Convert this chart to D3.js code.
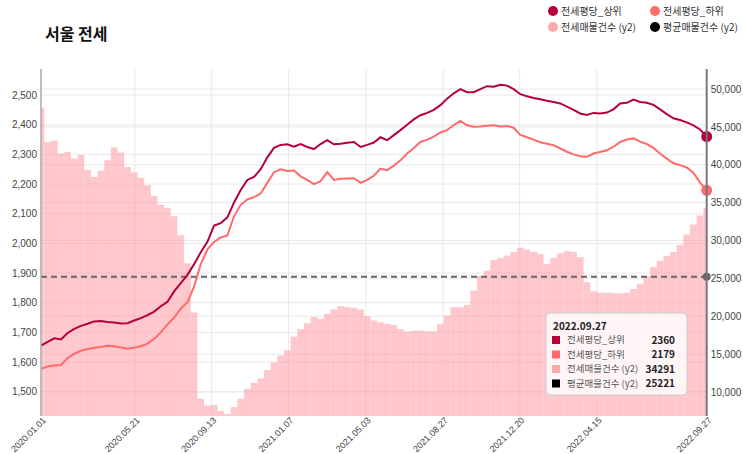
<!DOCTYPE html>
<html>
<head>
<meta charset="utf-8">
<script src="https://cdn.jsdelivr.net/npm/d3@7"></script>
<style>
    body { margin: 0; background: #fff; }
    svg { font-family: "Noto Sans CJK KR", "Noto Sans", sans-serif; }
    .axis text { fill: #444; font-size: 10px; }
    .grid line { stroke: #e9e9e9; stroke-width: 1; }
</style>
</head>
<body>
<div id="chart"></div>
<script>
// sampled every 10 days from 2020.01.01 to 2022.09.27
const startDate = '2020-01-01';
const stepDays = 10;

// 전세평당_상위 (left axis)
const upper = [1655,1668,1680,1676,1698,1712,1722,1729,1737,1738,
    1735,1733,1730,1731,1740,1748,1758,1770,1788,1803,
    1838,1866,1894,1930,1970,2005,2060,2068,2088,2138,
    2180,2214,2224,2250,2290,2322,2332,2334,2326,2335,
    2325,2318,2335,2348,2334,2336,2339,2342,2325,2332,
    2340,2358,2348,2365,2382,2400,2418,2432,2440,2450,
    2466,2488,2506,2520,2510,2510,2520,2530,2528,2535,
    2532,2520,2503,2496,2490,2486,2481,2477,2472,2461,
    2450,2438,2433,2440,2438,2441,2452,2472,2474,2485,
    2477,2474,2467,2452,2436,2422,2416,2408,2398,2384,2360];

// 전세평당_하위 (left axis)
const lower = [1577,1585,1588,1590,1613,1628,1638,1644,1648,1651,
    1655,1653,1649,1645,1648,1653,1662,1678,1700,1727,
    1750,1780,1802,1855,1930,1980,2005,2020,2027,2092,
    2130,2148,2156,2168,2204,2240,2250,2244,2246,2226,
    2214,2200,2210,2240,2214,2218,2219,2220,2204,2214,
    2228,2252,2247,2262,2280,2303,2322,2342,2350,2360,
    2374,2382,2399,2413,2398,2393,2394,2397,2398,2394,
    2396,2390,2366,2358,2350,2341,2336,2331,2320,2309,
    2300,2294,2292,2303,2308,2314,2326,2342,2350,2354,
    2343,2335,2322,2302,2286,2270,2264,2256,2238,2205,2179];

// 전세매물건수 (right axis)
const listings = [47500,43000,43200,41500,41700,40800,41300,39300,38400,39200,
    40600,42300,41600,39700,39000,38300,37300,35900,34700,34300,
    33200,30700,27000,20500,9100,8200,8300,7500,7100,8000,
    9100,10400,11200,11800,12900,13900,14800,15500,17300,18300,
    19100,19900,19700,20300,20900,21350,21200,21100,20900,20000,
    19450,19200,19000,18850,18300,18000,18100,18100,18000,18000,
    18950,20100,21200,21200,21500,23400,25300,26000,27400,27700,
    28000,28500,29050,28800,28500,28200,26900,27700,28300,28600,
    28500,27800,24500,23300,23100,23130,23050,23000,23100,23600,
    24300,25300,26500,27300,27950,28500,29400,30800,32100,33300,34291];

// 평균매물건수 (right axis)
const avgListings = 25221;

// axis ticks
const xTickLabels = ['2020.01.01','2020.05.21','2020.09.13','2021.01.07','2021.05.03',
    '2021.08.27','2021.12.20','2022.04.15','2022.09.27'];
const leftTicks = [1500,1600,1700,1800,1900,2000,2100,2200,2300,2400,2500];
const rightTicks = [10000,15000,20000,25000,30000,35000,40000,45000,50000];

// series names and colours
const seriesNames = ['전세평당_상위','전세평당_하위','전세매물건수 (y2)','평균매물건수 (y2)'];
const colors = ['#b5003b','#ff6b6b','#ffaaaa','#000000'];

// defining layout
const width = 743;
const height = 454;
const margin = {t:69, r:36.3, b:38, l:41};
const w = width - margin.l - margin.r;
const h = height - margin.t - margin.b;

const parseDate = d3.timeParse('%Y-%m-%d');
const parseTick = d3.timeParse('%Y.%m.%d');
const formatTick = d3.timeFormat('%Y.%m.%d');
const start = parseDate(startDate);
const dates = upper.map((d, i) => d3.timeDay.offset(start, i * stepDays));
const tickDates = xTickLabels.map(parseTick);

const svg = d3.select('#chart').append('svg')
    .attr('width', width)
    .attr('height', height);

const defs = svg.append('defs');
defs.append('clipPath')
    .attr('id', 'plot-clip')
    .append('rect')
    .attr('width', w)
    .attr('height', h);

// thin vertical stripes for the listing bars
const stripes = defs.append('pattern')
    .attr('id', 'bar-stripes')
    .attr('patternUnits', 'userSpaceOnUse')
    .attr('width', 1.6)
    .attr('height', 8);
stripes.append('rect')
    .attr('width', 1.6).attr('height', 8)
    .style('fill', '#ff8a94').style('fill-opacity', 0.5);
stripes.append('rect')
    .attr('width', 0.5).attr('height', 8)
    .style('fill', '#ffffff').style('fill-opacity', 0.2);

const plot = svg.append('g')
    .attr('transform', `translate(${margin.l},${margin.t})`);

// setting up scales
const scaleX = d3.scaleTime()
    .domain([start, tickDates[tickDates.length - 1]])
    .range([0, w]);
const scaleY = d3.scaleLinear()
    .domain([1418, 2588])
    .range([h, 0]);
const scaleY2 = d3.scaleLinear()
    .domain([6830, 52640])
    .range([h, 0]);

// grid lines
const grid = plot.append('g').attr('class', 'grid');
grid.selectAll('.gy').data(leftTicks).enter().append('line')
    .attr('x1', 0).attr('x2', w)
    .attr('y1', d => scaleY(d)).attr('y2', d => scaleY(d));
grid.selectAll('.gy2').data(rightTicks).enter().append('line')
    .attr('x1', 0).attr('x2', w)
    .attr('y1', d => scaleY2(d)).attr('y2', d => scaleY2(d));
grid.selectAll('.gx').data(tickDates.slice(1, -1)).enter().append('line')
    .attr('y1', 0).attr('y2', h)
    .attr('x1', d => scaleX(d)).attr('x2', d => scaleX(d));

// bars for listings
const barW = scaleX(dates[1]) - scaleX(dates[0]);
plot.append('g')
    .attr('clip-path', 'url(#plot-clip)')
    .selectAll('rect')
    .data(listings)
    .enter()
    .append('rect')
    .attr('x', (d, i) => scaleX(dates[i]) - barW / 2)
    .attr('width', barW)
    .attr('y', d => scaleY2(d))
    .attr('height', d => h - scaleY2(d))
    .style('fill', 'url(#bar-stripes)');

// average dashed line
plot.append('line')
    .attr('x1', 0).attr('x2', w)
    .attr('y1', scaleY2(avgListings)).attr('y2', scaleY2(avgListings))
    .style('stroke', '#666')
    .style('stroke-width', 2)
    .style('stroke-dasharray', '6,4');
plot.append('circle')
    .attr('cx', w).attr('cy', scaleY2(avgListings)).attr('r', 4)
    .style('fill', '#666');

// line generator
const line = d3.line()
    .x((d, i) => scaleX(dates[i]))
    .y(d => scaleY(d));

[lower, upper].forEach((s, k) => {
    const c = k === 0 ? colors[1] : colors[0];
    plot.append('path')
        .attr('d', line(s))
        .style('fill', 'none')
        .style('stroke', c)
        .style('stroke-width', 2);
    plot.append('circle')
        .attr('cx', scaleX(dates[s.length - 1]))
        .attr('cy', scaleY(s[s.length - 1]))
        .attr('r', 5.5)
        .style('fill', c);
});

// axes
const axisY = d3.axisLeft(scaleY)
    .tickValues(leftTicks)
    .tickSize(0)
    .tickPadding(4)
    .tickFormat(d3.format(','));
const axisY2 = d3.axisRight(scaleY2)
    .tickValues(rightTicks)
    .tickSize(0)
    .tickPadding(4)
    .tickFormat(d3.format(','));
const axisX = d3.axisBottom(scaleX)
    .tickValues(tickDates)
    .tickSize(0)
    .tickFormat(formatTick);

plot.append('g').attr('class', 'axis axis-y').call(axisY)
    .select('.domain').remove();
plot.append('g').attr('class', 'axis axis-y2')
    .attr('transform', `translate(${w},0)`)
    .call(axisY2)
    .select('.domain').remove();
const axisXNode = plot.append('g').attr('class', 'axis axis-x')
    .attr('transform', `translate(0,${h})`)
    .call(axisX);
axisXNode.select('.domain').remove();
axisXNode.selectAll('text')
    .attr('y', 0)
    .attr('dy', 0)
    .attr('transform', 'translate(5,5) rotate(-45)')
    .style('text-anchor', 'end')
    .style('font-size', '9px');

// axis lines
plot.append('line')
    .attr('x1', 0).attr('x2', 0).attr('y1', 0).attr('y2', h)
    .style('stroke', '#aaa').style('stroke-width', 1.5);
plot.append('line')
    .attr('x1', w).attr('x2', w).attr('y1', 0).attr('y2', h)
    .style('stroke', '#777').style('stroke-width', 2);

// title
svg.append('text')
    .attr('x', 45).attr('y', 40)
    .text('서울 전세')
    .style('font-size', '16px')
    .style('font-weight', 700)
    .style('fill', '#111');

// legend
const legendPos = [[553,11],[655,11],[553,27],[655,27]];
const legend = svg.append('g').selectAll('g')
    .data(seriesNames)
    .enter()
    .append('g')
    .attr('transform', (d, i) => `translate(${legendPos[i][0]},${legendPos[i][1]})`);
legend.append('circle')
    .attr('r', 5)
    .style('fill', (d, i) => colors[i]);
legend.append('text')
    .attr('x', 8)
    .attr('dy', '0.35em')
    .text(d => d)
    .style('font-size', '10px')
    .style('fill', '#333');

// tooltip box for the last date
const tipValues = [upper[upper.length - 1], lower[lower.length - 1], listings[listings.length - 1], avgListings];
const tip = svg.append('g').attr('transform', 'translate(546,313)');
tip.append('rect')
    .attr('width', 141)
    .attr('height', 82)
    .attr('rx', 4)
    .style('fill', 'rgba(255,255,255,0.82)')
    .style('stroke', '#ccc');
tip.append('text')
    .attr('x', 7).attr('y', 13).attr('dy', '0.35em')
    .text(formatTick(dates[dates.length - 1]))
    .style('font-size', '10px')
    .style('font-weight', 600)
    .style('fill', '#222');
const rows = tip.selectAll('.row')
    .data(seriesNames)
    .enter()
    .append('g')
    .attr('class', 'row')
    .attr('transform', (d, i) => `translate(0,${27 + i * 14.5})`);
rows.append('rect')
    .attr('x', 6).attr('y', -4)
    .attr('width', 8).attr('height', 8)
    .style('fill', (d, i) => colors[i]);
rows.append('text')
    .attr('x', 21).attr('dy', '0.35em')
    .text(d => d)
    .style('font-size', '9.5px')
    .style('fill', '#555');
rows.append('text')
    .attr('x', 129).attr('dy', '0.35em')
    .attr('text-anchor', 'end')
    .text((d, i) => tipValues[i])
    .style('font-size', '10px')
    .style('font-weight', 700)
    .style('fill', '#222');
</script>
</body>
</html>
